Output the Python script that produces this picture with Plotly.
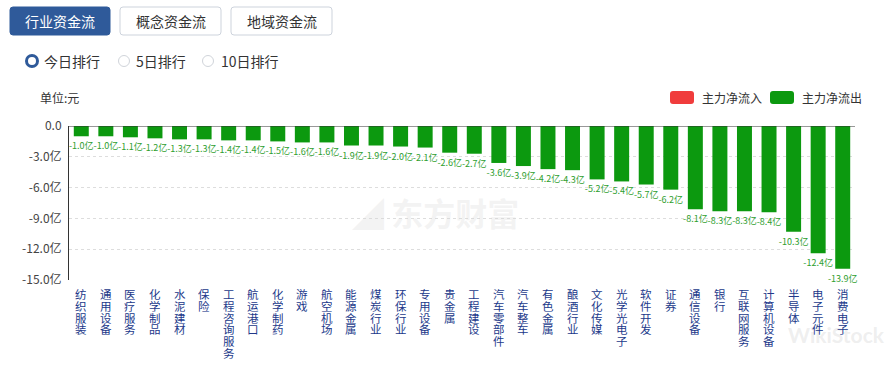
import plotly.graph_objects as go

categories = ["纺织服装", "通用设备", "医疗服务", "化学制品", "水泥建材", "保险", "工程咨询服务", "航运港口",
              "化学制药", "游戏", "航空机场", "能源金属", "煤炭行业", "环保行业", "专用设备", "贵金属",
              "工程建设", "汽车零部件", "汽车整车", "有色金属", "酿酒行业", "文化传媒", "光学光电子", "软件开发",
              "证券", "通信设备", "银行", "互联网服务", "计算机设备", "半导体", "电子元件", "消费电子"]
net_outflow = [-1.0, -1.0, -1.1, -1.2, -1.3, -1.3, -1.4, -1.4, -1.5, -1.6, -1.6, -1.9, -1.9, -2.0, -2.1, -2.6,
               -2.7, -3.6, -3.9, -4.2, -4.3, -5.2, -5.4, -5.7, -6.2, -8.1, -8.3, -8.3, -8.4, -10.3, -12.4, -13.9]
y_tickvals = [0, -3, -6, -9, -12, -15]
y_ticktext = ["0.0", "-3.0亿", "-6.0亿", "-9.0亿", "-12.0亿", "-15.0亿"]

W, H = 894, 367
ML, MR, MT, MB = 69, 39, 126, 87
PW, PH = W - ML - MR, H - MT - MB
FONT = "Noto Sans CJK SC, Microsoft YaHei, sans-serif"
GREEN = "#0c990f"
RED = "#f03c3c"
BLUE = "#2f5a9a"


def PX(x):
    return (x - ML) / PW


def PY(y):
    return (H - MB - y) / PH


def rrect(x0, y0, x1, y1, r):
    rx, ry = r / PW, r / PH
    a0, a1 = PX(x0), PX(x1)
    b0, b1 = PY(y1), PY(y0)  # bottom, top in paper
    return (f"M{a0+rx},{b0} L{a1-rx},{b0} Q{a1},{b0} {a1},{b0+ry} L{a1},{b1-ry} Q{a1},{b1} {a1-rx},{b1} "
            f"L{a0+rx},{b1} Q{a0},{b1} {a0},{b1-ry} L{a0},{b0+ry} Q{a0},{b0} {a0+rx},{b0} Z")


fig = go.Figure()
fig.add_trace(go.Bar(
    x=categories, y=net_outflow, name="主力净流出",
    marker=dict(color=GREEN, line=dict(width=0)),
    texttemplate="%{y:.1f}亿", textposition="outside", constraintext="none", cliponaxis=False,
    textfont=dict(size=9, color="#2e9e2e", family=FONT),
    showlegend=False, hoverinfo="x+y",
))

shapes = []
annotations = []

# zero axis line (top)
shapes.append(dict(type="line", xref="paper", yref="y", x0=0, x1=1, y0=0, y1=0, line=dict(color="#333333", width=1)))

# buttons
buttons = [("行业资金流", 10, 110, True), ("概念资金流", 120, 221, False), ("地域资金流", 231, 332, False)]
for label, x0, x1, active in buttons:
    shapes.append(dict(type="path", xref="paper", yref="paper", path=rrect(x0, 7, x1, 35, 3),
                       fillcolor=BLUE if active else "white",
                       line=dict(color=BLUE if active else "#cdd3dc", width=1)))
    annotations.append(dict(xref="paper", yref="paper", x=PX((x0 + x1) / 2), y=PY(21), text=label,
                            showarrow=False, xanchor="center", yanchor="middle",
                            font=dict(size=14, color="white" if active else "#333333", family=FONT)))

# radio options
radios = [("今日排行", 32, 42, True), ("5日排行", 124, 134, False), ("10日排行", 208, 219, False)]
for label, cx, tx, active in radios:
    r = 5.5
    shapes.append(dict(type="circle", xref="paper", yref="paper",
                       x0=PX(cx - r), x1=PX(cx + r), y0=PY(61 + r), y1=PY(61 - r),
                       fillcolor="white", line=dict(color=BLUE if active else "#d0d4da", width=3 if active else 1)))
    annotations.append(dict(xref="paper", yref="paper", x=PX(tx), y=PY(61), text=label, showarrow=False,
                            xanchor="left", yanchor="middle", font=dict(size=14, color="#333333", family=FONT)))

# unit
annotations.append(dict(xref="paper", yref="paper", x=PX(38), y=PY(98), text="单位:元", showarrow=False,
                        xanchor="left", yanchor="middle", font=dict(size=12, color="#333333", family=FONT)))

# legend
for label, x0, col in [("主力净流入", 670, RED), ("主力净流出", 770, GREEN)]:
    shapes.append(dict(type="path", xref="paper", yref="paper", path=rrect(x0, 91, x0 + 24, 104, 3),
                       fillcolor=col, line=dict(width=0)))
    annotations.append(dict(xref="paper", yref="paper", x=PX(x0 + 30), y=PY(97.5), text=label, showarrow=False,
                            xanchor="left", yanchor="middle", font=dict(size=12, color="#333333", family=FONT)))

# watermarks
annotations.append(dict(xref="paper", yref="paper", x=PX(435), y=PY(212), text="◢ 东方财富", showarrow=False,
                        xanchor="center", yanchor="middle",
                        font=dict(size=32, color="rgba(215,215,215,0.30)", family=FONT, weight="bold")))
annotations.append(dict(xref="paper", yref="paper", x=PX(836), y=PY(334), text="WikiStock", showarrow=False,
                        xanchor="center", yanchor="middle",
                        font=dict(size=21, color="rgba(200,200,200,0.30)", family="Lato, sans-serif", weight="bold")))

# vertical category labels, one character per line (tight stacking as in the reference)
STEP = 11.8
for cat in categories:
    for k, ch in enumerate(cat):
        annotations.append(dict(xref="x", yref="paper", x=cat, y=0, text=ch, showarrow=False,
                                xanchor="center", yanchor="top", yshift=-(6 + k * STEP),
                                height=STEP, valign="middle",
                                font=dict(size=11.5, color="#22398a", family=FONT)))

fig.update_layout(
    width=W, height=H, margin=dict(l=ML, r=MR, t=MT, b=MB),
    paper_bgcolor="white", plot_bgcolor="white",
    bargap=0.39, showlegend=False,
    font=dict(family=FONT, color="#333333"),
    shapes=shapes, annotations=annotations,
    xaxis=dict(type="category", showticklabels=False, showgrid=False, zeroline=False, showline=False,
               ticks="", range=[-0.5, len(categories) - 0.5]),
    yaxis=dict(range=[-15, 0], tickvals=y_tickvals, ticktext=y_ticktext, showgrid=True,
               gridcolor="#dddddd", griddash="dot", gridwidth=1, zeroline=False,
               showline=True, linecolor="#333333", linewidth=1, ticks="", ticklen=0,
               ticklabelstandoff=4,
               tickfont=dict(size=12, color="#444444", family=FONT)),
)

fig.write_html("out.html", config={"displayModeBar": False},
               post_script="document.body.style.margin='0';document.body.style.padding='0';")
